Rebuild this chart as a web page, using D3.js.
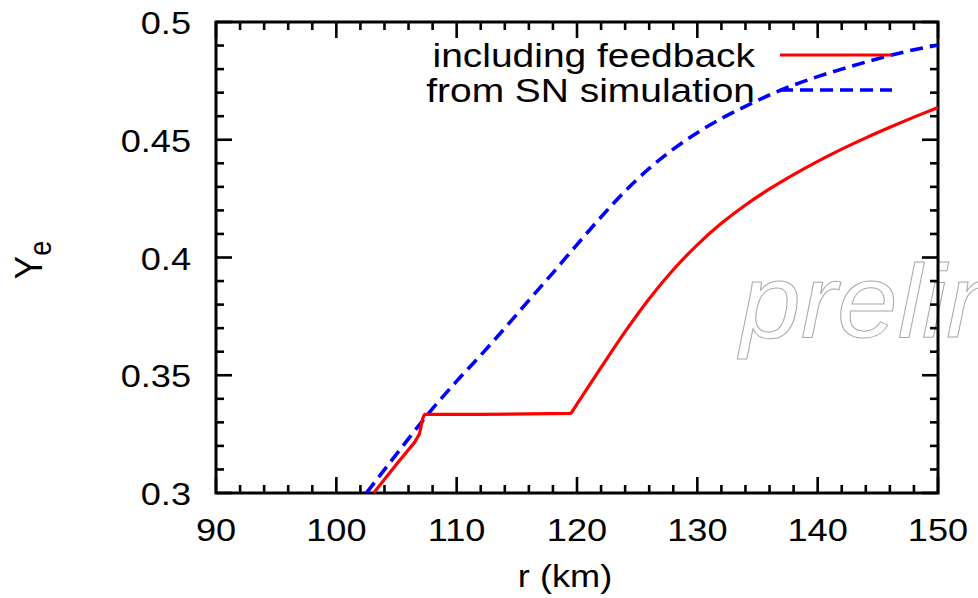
<!DOCTYPE html>
<html>
<head>
<meta charset="utf-8">
<script src="https://cdn.jsdelivr.net/npm/d3@7"></script>
<style>
  html, body { margin: 0; padding: 0; background: #fff; }
  svg { display: block; }
  text { font-family: "Liberation Sans", Arial, Helvetica, sans-serif; fill: #000; }
</style>
</head>
<body>
<svg id="chart" width="978" height="598"></svg>
<script>
// ---------- data ----------
// segment 1: rising edge + plateau (straight pieces)
const rFeedbackLow  = [103.1, 105.0, 106.5, 106.9, 107.2, 107.35, 112, 116, 119.5];
const yeFeedbackLow = [0.300, 0.3122, 0.3215, 0.3250, 0.3320, 0.3334, 0.3334, 0.3336, 0.3338];
// segment 2: smooth rise after the plateau
const rFeedbackHigh  = [119.5, 120.2, 122, 124, 126, 128, 130, 132, 134, 136, 138, 140, 142, 144, 146, 148, 150];
const yeFeedbackHigh = [0.3338, 0.3393, 0.3533, 0.3685, 0.3825, 0.3948, 0.4054, 0.4145, 0.4223, 0.4291, 0.4352, 0.4408, 0.4460, 0.4508, 0.4553, 0.4596, 0.4637];

const rSim  = [102.5, 105, 107.7, 110, 112, 114, 116, 118, 120, 122, 124, 126, 128, 130, 132, 134, 136, 138, 140, 142, 144, 146, 148, 150];
const yeSim = [0.300, 0.3165, 0.3340, 0.3475, 0.3585, 0.3700, 0.3818, 0.3935, 0.4055, 0.4172, 0.4282, 0.4378, 0.4460, 0.4530, 0.4590, 0.4642, 0.4690, 0.4732, 0.4768, 0.4800, 0.4830, 0.4858, 0.4882, 0.4902];

const xTicks = [90, 100, 110, 120, 130, 140, 150];
const xTickLabels = ["90", "100", "110", "120", "130", "140", "150"];
const yTicks = [0.3, 0.35, 0.4, 0.45, 0.5];
const yTickLabels = ["0.3", "0.35", "0.4", "0.45", "0.5"];
const seriesNames = ["including feedback", "from SN simulation"];
const seriesColors = ["#ff0000", "#0000ff"];

// ---------- layout ----------
const svg = d3.select("#chart");
const x = d3.scaleLinear().domain([90, 150]).range([216, 938]);
const y = d3.scaleLinear().domain([0.3, 0.5]).range([493, 22]);
const SX = 1.13; // horizontal stretch of the original text

// watermark
svg.append("text")
  .attr("transform", `translate(740,337) scale(1.05,1)`)
  .style("font-size", "104px")
  .style("font-style", "italic")
  .style("fill", "none")
  .style("stroke", "#aaaaaa")
  .style("stroke-width", 1)
  .text("preliminary");

// ticks (mirrored on all sides, pointing inward)
const majorLen = 16, minorLen = 8;
const xMinor = d3.range(90, 150.01, 2);
const yMinor = d3.range(0.3, 0.5001, 0.01);
const tickG = svg.append("g").attr("stroke", "#000").attr("stroke-width", 2.6);
xMinor.forEach(v => {
  const isMajor = Math.abs((v - 90) % 10) < 1e-6;
  const L = isMajor ? majorLen : minorLen;
  tickG.append("line").attr("x1", x(v)).attr("x2", x(v)).attr("y1", y(0.3)).attr("y2", y(0.3) - L);
  tickG.append("line").attr("x1", x(v)).attr("x2", x(v)).attr("y1", y(0.5)).attr("y2", y(0.5) + L);
});
yMinor.forEach((v, i) => {
  const isMajor = i % 5 === 0;
  const L = isMajor ? majorLen : minorLen;
  tickG.append("line").attr("y1", y(v)).attr("y2", y(v)).attr("x1", x(90)).attr("x2", x(90) + L);
  tickG.append("line").attr("y1", y(v)).attr("y2", y(v)).attr("x1", x(150)).attr("x2", x(150) - L);
});

// frame
svg.append("rect")
  .attr("x", x(90)).attr("y", y(0.5))
  .attr("width", x(150) - x(90)).attr("height", y(0.3) - y(0.5))
  .attr("fill", "none").attr("stroke", "#000").attr("stroke-width", 3);

// tick labels
xTicks.forEach((v, i) => {
  svg.append("text")
    .attr("transform", `translate(${x(v)},541) scale(${SX},1)`)
    .attr("text-anchor", "middle")
    .style("font-size", "32px")
    .text(xTickLabels[i]);
});
yTicks.forEach((v, i) => {
  svg.append("text")
    .attr("transform", `translate(191,${y(v) + 12}) scale(${SX},1)`)
    .attr("text-anchor", "end")
    .style("font-size", "32px")
    .text(yTickLabels[i]);
});

// axis titles
svg.append("text")
  .attr("transform", `translate(565,587) scale(${SX},1)`)
  .attr("text-anchor", "middle")
  .style("font-size", "32px")
  .text("r (km)");

const yl = svg.append("text")
  .attr("transform", `translate(42,260) scale(${SX},1) rotate(-90)`)
  .attr("text-anchor", "middle")
  .style("font-size", "35px");
yl.append("tspan").text("Y");
yl.append("tspan").attr("dy", 8).style("font-size", "27px").text("e");

// curves
const lineGen = (xs, ys, curve) => d3.line()
  .x((d, i) => x(xs[i])).y((d, i) => y(ys[i])).curve(curve)(xs);

svg.append("path")
  .attr("d", lineGen(rSim, yeSim, d3.curveMonotoneX))
  .attr("fill", "none").attr("stroke", seriesColors[1])
  .attr("stroke-width", 3.6).attr("stroke-dasharray", "13,7");

svg.append("path")
  .attr("d", lineGen(rFeedbackLow, yeFeedbackLow, d3.curveLinear) + lineGen(rFeedbackHigh, yeFeedbackHigh, d3.curveMonotoneX).replace(/^M/, "L"))
  .attr("fill", "none").attr("stroke", seriesColors[0])
  .attr("stroke-width", 3.2).attr("stroke-linejoin", "round");

// legend
const legendY = [55, 90];
seriesNames.forEach((name, i) => {
  svg.append("text")
    .attr("transform", `translate(755,${legendY[i] + 12}) scale(1.18,1)`)
    .attr("text-anchor", "end")
    .style("font-size", "33px")
    .text(name);
  svg.append("line")
    .attr("x1", 780).attr("x2", 892)
    .attr("y1", legendY[i]).attr("y2", legendY[i])
    .attr("stroke", seriesColors[i])
    .attr("stroke-width", i === 0 ? 3.2 : 3.6)
    .attr("stroke-dasharray", i === 0 ? null : "13,7");
});
</script>
</body>
</html>
